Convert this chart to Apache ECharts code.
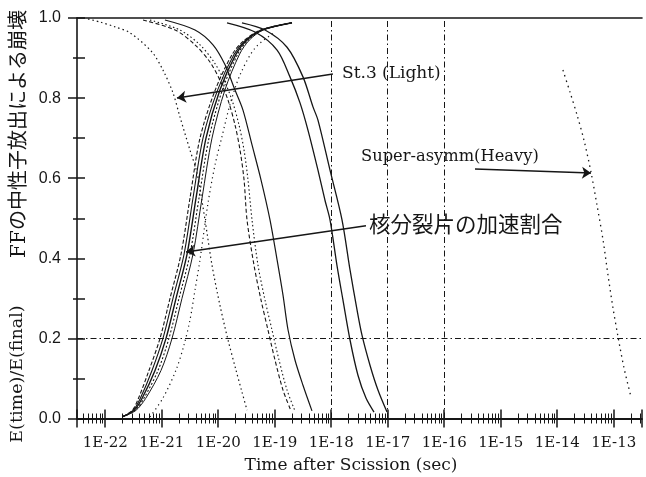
<!DOCTYPE html>
<html><head><meta charset="utf-8">
<script src="https://cdn.jsdelivr.net/npm/echarts@6/dist/echarts.min.js"></script>
<style>html,body{margin:0;padding:0;background:#fff}#c{width:646px;height:477px}</style>
</head><body><div id="c"></div>
<script>
// ---- tick labels ----
const xTickLabels = ['1E-22','1E-21','1E-20','1E-19','1E-18','1E-17','1E-16','1E-15','1E-14','1E-13'];
const yTickLabels = ['0.0','0.2','0.4','0.6','0.8','1.0'];
const refLinesX = [1e-18, 1e-17, 1e-16];   // seconds
const refLineY = 0.2;

// ---- rising curves: E(time)/E(final) (times in seconds) ----
const riseY  = [0.005, 0.02, 0.05, 0.12, 0.20, 0.30, 0.41, 0.55, 0.70, 0.82, 0.91, 0.945, 0.97, 0.988];
const riseA_t = [2.06e-22, 3.00e-22, 3.86e-22, 5.94e-22, 9.31e-22, 1.40e-21, 2.19e-21, 3.16e-21, 4.75e-21, 8.83e-21, 1.78e-20, 2.93e-20, 5.66e-20, 2.02e-19];
const riseB_t = [2.06e-22, 3.11e-22, 4.16e-22, 6.72e-22, 1.05e-21, 1.58e-21, 2.48e-21, 3.57e-21, 5.37e-21, 9.73e-21, 1.92e-20, 3.07e-20, 5.80e-20, 2.02e-19];
const riseC_t = [2.06e-22, 3.23e-22, 4.47e-22, 7.60e-22, 1.19e-21, 1.79e-21, 2.80e-21, 4.04e-21, 6.07e-21, 1.07e-20, 2.06e-20, 3.23e-20, 5.94e-20, 2.02e-19];
const riseD_t = [2.06e-22, 3.35e-22, 4.81e-22, 8.59e-22, 1.34e-21, 2.02e-21, 3.16e-21, 4.56e-21, 6.86e-21, 1.18e-20, 2.22e-20, 3.39e-20, 6.09e-20, 2.02e-19];
const riseE_t = [2.06e-22, 3.47e-22, 5.18e-22, 9.70e-22, 1.52e-21, 2.28e-21, 3.57e-21, 5.16e-21, 7.75e-21, 1.31e-20, 2.39e-20, 3.56e-20, 6.25e-20, 2.02e-19];
const riseDot_t = [6.19e-22, 1.05e-21, 1.79e-21, 2.48e-21, 3.16e-21, 3.88e-21, 4.75e-21, 6.59e-21, 8.76e-21, 1.16e-20, 1.61e-20, 2.43e-20, 4.47e-20, 1.01e-19];
const riseDot_y = [0.004, 0.051, 0.121, 0.184, 0.246, 0.321, 0.396, 0.538, 0.633, 0.703, 0.783, 0.858, 0.925, 0.965];

// ---- falling curves: decay by neutron emission from FF ----
const fall1_t = [4.95e-23, 8.07e-23, 1.49e-22, 2.74e-22, 6.72e-22, 1.05e-21, 1.58e-21, 2.10e-21, 3.16e-21, 4.21e-21, 5.83e-21, 7.75e-21, 1.07e-20, 1.49e-20, 2.06e-20, 2.63e-20, 3.23e-20];
const fall1_y = [0.9975, 0.990, 0.978, 0.963, 0.915, 0.870, 0.813, 0.753, 0.670, 0.613, 0.496, 0.383, 0.283, 0.196, 0.121, 0.066, 0.021];
const fall2_y = [0.995, 0.970, 0.933, 0.890, 0.845, 0.795, 0.733, 0.670, 0.596, 0.496, 0.383, 0.296, 0.221, 0.146, 0.071, 0.019];
const fall2a_t = [4.66e-22, 1.72e-21, 3.88e-21, 7.14e-21, 1.07e-20, 1.49e-20, 1.98e-20, 2.43e-20, 2.86e-20, 3.23e-20, 4.29e-20, 5.71e-20, 7.59e-20, 1.01e-19, 1.40e-19, 1.94e-19];
const fall2b_t = [6.19e-22, 2.10e-21, 4.75e-21, 8.41e-21, 1.26e-20, 1.75e-20, 2.33e-20, 2.86e-20, 3.36e-20, 3.96e-20, 5.05e-20, 6.72e-20, 8.94e-20, 1.19e-19, 1.65e-19, 2.28e-19];
const fall2c_t = [1.14e-21, 3.88e-21, 8.07e-21, 1.32e-20, 1.98e-20, 2.74e-20, 3.96e-20, 5.71e-20, 8.24e-20, 1.10e-19, 1.40e-19, 1.72e-19, 2.28e-19, 3.16e-19, 4.56e-19];
const fall2c_y = [0.995, 0.970, 0.933, 0.883, 0.820, 0.770, 0.683, 0.596, 0.496, 0.396, 0.308, 0.221, 0.146, 0.083, 0.019];
const fall3a_t = [1.43e-20, 4.47e-20, 1.10e-19, 1.86e-19, 2.80e-19, 3.87e-19, 5.82e-19, 7.74e-19, 9.51e-19, 1.26e-18, 1.61e-18, 2.15e-18, 2.97e-18, 4.12e-18, 5.71e-18];
const fall3a_y = [0.988, 0.965, 0.920, 0.853, 0.788, 0.720, 0.620, 0.545, 0.496, 0.383, 0.296, 0.196, 0.108, 0.051, 0.016];
const fall3b_t = [2.63e-20, 6.72e-20, 1.65e-19, 3.16e-19, 4.75e-19, 5.82e-19, 9.51e-19, 1.55e-18, 2.15e-18, 2.86e-18, 3.50e-18, 4.85e-18, 6.71e-18, 9.71e-18];
const fall3b_y = [0.988, 0.970, 0.927, 0.853, 0.778, 0.745, 0.620, 0.496, 0.371, 0.271, 0.208, 0.133, 0.071, 0.016];
const heavy_t = [1.26e-14, 1.68e-14, 2.24e-14, 2.97e-14, 3.96e-14, 5.05e-14, 6.46e-14, 7.91e-14, 9.70e-14, 1.19e-13, 1.52e-13, 2.02e-13];
const heavy_y = [0.870, 0.815, 0.758, 0.695, 0.615, 0.533, 0.446, 0.358, 0.276, 0.204, 0.126, 0.054];

// ---- annotation arrows ([time s, value]) ----
const arrowLight = [[1.07e-18, 0.860], [1.86e-21, 0.800]];
const arrowHeavy = [[3.50e-16, 0.623], [3.96e-14, 0.613]];
const arrowAccel = [[4.12e-18, 0.481], [2.69e-21, 0.416]];

// axis range in seconds
const T_MIN = 3.1623e-23, T_MAX = 3.1623e-13;

// ECharts' log scale rounds tiny values, so the axis works in units of 1e-21 s
const UNIT = 1e-21;
const u = t => t / UNIT;
const ink = '#161616';
const SERIF = '"DejaVu Serif", serif';

function pairs(ts, ys) { return ts.map((t, i) => [u(t), ys[i]]); }
function curve(name, ts, ys, type, width, extra) {
  return Object.assign({
    name, type: 'line', data: pairs(ts, ys), xAxisIndex: 0, yAxisIndex: 0,
    showSymbol: false, symbol: 'none', smooth: 0.3, silent: true, animation: false, z: 3,
    lineStyle: { color: ink, width: width || 1.1, type: type || 'solid' }
  }, extra || {});
}
function arrow(a) {
  return [{ coord: [u(a[0][0]), a[0][1]], symbol: 'none' }, { coord: [u(a[1][0]), a[1][1]], symbol: 'arrow' }];
}
const dashDot = [6, 3, 1.5, 3];

const series = [
  curve('riseA', riseA_t, riseY, [4, 2], 1.1),
  curve('riseB', riseB_t, riseY, 'solid', 1.1),
  curve('riseC', riseC_t, riseY, 'solid', 1.4),
  curve('riseD', riseD_t, riseY, [2, 2], 1.1),
  curve('riseE', riseE_t, riseY, 'solid', 1.0),
  curve('riseDot', riseDot_t, riseDot_y, [1.2, 3.5], 1.2),
  curve('fall1', fall1_t, fall1_y, [1.5, 3], 1.2),
  curve('fall2a', fall2a_t, fall2_y, [4, 2.5], 1.1),
  curve('fall2b', fall2b_t, fall2_y, [1.5, 2.5], 1.1),
  curve('fall2c', fall2c_t, fall2c_y, 'solid', 1.2),
  curve('fall3a', fall3a_t, fall3a_y, 'solid', 1.3),
  curve('fall3b', fall3b_t, fall3b_y, 'solid', 1.3, {
    markLine: {
      silent: true, animation: false, symbol: ['none', 'arrow'], symbolSize: 9,
      label: { show: false },
      lineStyle: { color: ink, width: 1.5, type: 'solid' },
      data: [arrow(arrowLight), arrow(arrowHeavy), arrow(arrowAccel)]
    }
  }),
  curve('heavy', heavy_t, heavy_y, [1.5, 4], 1.3, {
    markLine: {
      silent: true, animation: false, symbol: ['none', 'none'],
      label: { show: false },
      lineStyle: { color: ink, width: 1, type: dashDot },
      data: refLinesX.map(v => ({ xAxis: u(v) })).concat([{ yAxis: refLineY }])
    }
  })
];

function xLabel(v) {
  const e = Math.log10(v * UNIT), r = Math.round(e);
  if (Math.abs(e - r) > 1e-6) return '';
  const i = r + 22;
  return (i >= 0 && i < xTickLabels.length) ? xTickLabels[i] : '';
}
function yLabel(v) {
  const i = Math.round(v / 0.2);
  return yTickLabels[i] || '';
}

const option = {
  backgroundColor: '#fff',
  animation: false,
  grid: { left: 77, right: 4, top: 18, bottom: 58.5, containLabel: false },
  xAxis: [
    {
      type: 'log', logBase: 10, min: u(T_MIN), max: u(T_MAX), splitNumber: 10, position: 'bottom',
      axisLine: { show: true, lineStyle: { color: ink, width: 2 } },
      axisTick: { show: true, length: 9, lineStyle: { color: ink, width: 1.5 } },
      minorTick: { show: true, splitNumber: 9, length: 5, lineStyle: { color: ink, width: 1 } },
      axisLabel: { formatter: xLabel, margin: 17, color: ink, fontFamily: SERIF, fontSize: 15 },
      splitLine: { show: false }, minorSplitLine: { show: false }
    },
    {
      type: 'log', logBase: 10, min: u(T_MIN), max: u(T_MAX), splitNumber: 10, position: 'bottom',
      axisLine: { show: false },
      axisTick: { show: true, inside: true, length: 9, lineStyle: { color: ink, width: 1.5 } },
      minorTick: { show: true, splitNumber: 9, length: 5, lineStyle: { color: ink, width: 1 } },
      axisLabel: { show: false }, splitLine: { show: false }
    },
    {
      type: 'value', min: 0, max: 1, position: 'top',
      axisLine: { show: true, lineStyle: { color: ink, width: 1.6 } },
      axisTick: { show: false }, axisLabel: { show: false }, splitLine: { show: false }
    }
  ],
  yAxis: [
    {
      type: 'value', min: 0, max: 1, interval: 0.2, position: 'left',
      axisLine: { show: true, lineStyle: { color: ink, width: 1.6 } },
      axisTick: { show: true, length: 9, lineStyle: { color: ink, width: 1.5 } },
      minorTick: { show: true, splitNumber: 2, length: 4, lineStyle: { color: ink, width: 1.5 } },
      axisLabel: { formatter: yLabel, margin: 16, color: ink, fontFamily: '"Liberation Sans", sans-serif', fontSize: 16 },
      splitLine: { show: false }
    },
    {
      type: 'value', min: 0, max: 1, interval: 0.1, position: 'left',
      axisLine: { show: false },
      axisTick: { show: true, inside: true, length: 8, lineStyle: { color: ink, width: 1.5 } },
      axisLabel: { show: false }, splitLine: { show: false }
    }
  ],
  graphic: [
    { type: 'text', x: 17, y: 374, rotation: Math.PI / 2, silent: true,
      style: { text: 'E(time)/E(final)', fill: ink, font: '17.5px "DejaVu Serif"', align: 'center', verticalAlign: 'middle' } },
    { type: 'text', x: 20, y: 134, rotation: Math.PI / 2, silent: true,
      style: { text: 'FFの中性子放出による崩壊', fill: ink, font: '20px "DejaVu Serif", "Noto Sans CJK JP"', align: 'center', verticalAlign: 'middle' } },
    { type: 'text', x: 351, y: 466, silent: true,
      style: { text: 'Time after Scission (sec)', fill: ink, font: '17px "DejaVu Serif"', align: 'center', verticalAlign: 'middle' } },
    { type: 'text', x: 342, y: 74, silent: true,
      style: { text: 'St.3 (Light)', fill: ink, font: '17px "DejaVu Serif"', align: 'left', verticalAlign: 'middle' } },
    { type: 'text', x: 361, y: 157, silent: true,
      style: { text: 'Super-asymm(Heavy)', fill: ink, font: '16.3px "DejaVu Serif"', align: 'left', verticalAlign: 'middle' } },
    { type: 'text', x: 369, y: 224, silent: true,
      style: { text: '核分裂片の加速割合', fill: ink, font: '21.5px "Noto Sans CJK JP"', align: 'left', verticalAlign: 'middle' } }
  ],
  series
};

const chart = echarts.init(document.getElementById('c'), null, { renderer: 'canvas' });
chart.setOption(option);
</script>
</body></html>
